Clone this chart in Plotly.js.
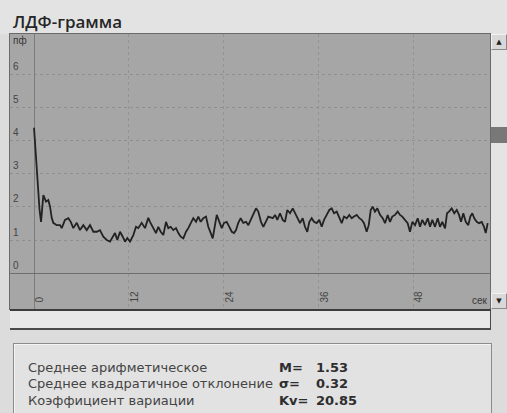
<!DOCTYPE html>
<html>
<head>
<meta charset="utf-8">
<script src="https://cdn.plot.ly/plotly-3.0.1.min.js"></script>
<style>
  html, body { margin:0; padding:0; }
  body { width:507px; height:413px; overflow:hidden; background:#dcdcdc; position:relative; font-family:"DejaVu Sans", sans-serif; }
  .abs { position:absolute; }
  #topband { left:0; top:0; width:507px; height:34px; background:#e3e3e3; }
  #title { left:13px; top:10px; font-family:"Open Sans", sans-serif; font-weight:600; font-size:17px; color:#262626; white-space:nowrap; }
  #frame { left:9px; top:33px; width:482px; height:277px; background:#6a6a6a; }
  #chart { left:10px; top:34px; width:480px; height:275px; }
  #vscroll { left:491px; top:34px; width:16px; height:275px; background:#e4e4e4; }
  .btn { position:absolute; left:0; width:16px; height:16px; background:#d8d8d8; border-top:1px solid #f2f2f2; border-left:1px solid #f2f2f2; border-bottom:1px solid #8a8a8a; border-right:1px solid #8a8a8a; box-sizing:border-box; font-size:7px; color:#222; text-align:center; line-height:14px; }
  #thumb { position:absolute; left:0; top:93px; width:16px; height:16px; background:#787878; }
  #hbar { left:10px; top:309px; width:481px; height:21px; background:#e8e8e8; border-top:2px solid #3c3c3c; border-bottom:2px solid #4a4a4a; border-right:1px solid #4a4a4a; box-sizing:border-box; }
  #group { left:13px; top:343px; width:479px; height:90px; background:#e2e2e2; border:1px solid #8c8c8c; box-shadow: inset 1px 1px 0 #f4f4f4; box-sizing:border-box; }
  .stat { position:absolute; font-size:13px; color:#444; white-space:nowrap; line-height:16px; }
  .sym { font-weight:bold; color:#2e2e2e; }
  .val { font-weight:bold; color:#2e2e2e; }
</style>
</head>
<body>
<div id="topband" class="abs"></div>
<div id="title" class="abs"></div>
<div id="frame" class="abs"></div>
<div id="chart" class="abs"></div>
<div id="vscroll" class="abs">
  <div class="btn" style="top:0">&#9650;</div>
  <div id="thumb"></div>
  <div class="btn" style="top:259px">&#9660;</div>
</div>
<div id="hbar" class="abs"></div>
<div id="group" class="abs"></div>
<script>
// ---- chart text ----
const chartTitle = "ЛДФ-грамма";
const xUnit = "сек";
const yUnit = "пф";

// ---- axis ticks ----
const xTickVals = [0, 12, 24, 36, 48];
const xTickText = ["0", "12", "24", "36", "48"];
const yTickVals = [0, 1, 2, 3, 4, 5, 6];
const yTickText = ["0", "1", "2", "3", "4", "5", "6"];

// ---- LDF signal (time, s / perfusion units) ----
const timeSec = [
  0.00, 0.38, 0.70, 0.89, 1.18, 1.52, 1.81, 2.03, 2.24, 2.44, 2.87, 3.29, 3.51, 3.92, 4.34, 4.65, 4.97, 5.41, 5.82, 6.24,
  6.67, 7.09, 7.51, 7.94, 8.35, 8.77, 9.20, 9.62, 9.96, 10.25, 10.54, 10.89, 11.23, 11.52, 11.81, 12.15, 12.57, 12.91, 13.20, 13.63,
  14.05, 14.47, 14.68, 15.10, 15.44, 15.73, 16.04, 16.37, 16.71, 17.00, 17.30, 17.63, 17.97, 18.27, 18.57, 18.90, 19.24, 19.53, 19.84, 20.16,
  20.51, 20.80, 21.10, 21.43, 21.77, 22.06, 22.37, 22.62, 22.91, 23.13, 23.46, 23.76, 24.05, 24.39, 24.72, 25.03, 25.32, 25.57, 25.86, 26.16,
  26.49, 26.84, 27.13, 27.43, 27.76, 28.10, 28.39, 28.73, 29.03, 29.37, 29.66, 30.22, 30.51, 30.80, 31.14, 31.48, 31.77, 32.06, 32.41, 32.75,
  33.04, 33.33, 33.67, 34.01, 34.30, 34.59, 34.85, 35.15, 35.44, 35.78, 36.11, 36.42, 36.71, 37.05, 37.38, 37.68, 37.97, 38.32, 38.65, 38.95,
  39.24, 39.58, 39.91, 40.22, 40.51, 40.85, 41.18, 41.48, 41.77, 42.11, 42.37, 42.62, 42.87, 43.16, 43.46, 43.80, 44.14, 44.43, 44.77, 45.06,
  45.35, 45.70, 46.04, 46.33, 46.62, 46.96, 47.30, 47.59, 47.89, 48.23, 48.57, 48.86, 49.15, 49.49, 49.84, 50.13, 50.42, 50.76, 51.10, 51.39,
  51.68, 52.03, 52.28, 52.53, 52.87, 53.20, 53.51, 53.80, 54.05, 54.34, 54.65, 54.97, 55.23, 55.48, 55.73, 56.04, 56.33, 56.67, 56.96, 57.18,
  57.43
];
const ldfValue = [
  4.40, 2.97, 1.91, 1.55, 2.36, 2.16, 2.21, 2.01, 1.67, 1.52, 1.45, 1.45, 1.36, 1.61, 1.66, 1.55, 1.36, 1.52, 1.30, 1.45,
  1.30, 1.45, 1.25, 1.25, 1.30, 1.10, 1.00, 0.95, 1.10, 1.21, 1.00, 1.25, 1.10, 0.95, 1.06, 0.95, 1.15, 1.40, 1.36, 1.52,
  1.36, 1.67, 1.55, 1.36, 1.21, 1.40, 1.25, 1.15, 1.55, 1.36, 1.40, 1.30, 1.36, 1.21, 1.10, 1.05, 1.25, 1.36, 1.52, 1.66,
  1.55, 1.71, 1.55, 1.66, 1.71, 1.40, 1.21, 1.05, 1.45, 1.76, 1.55, 1.36, 1.52, 1.55, 1.40, 1.25, 1.21, 1.30, 1.52, 1.66,
  1.52, 1.55, 1.45, 1.61, 1.76, 1.96, 1.86, 1.55, 1.40, 1.55, 1.71, 1.66, 1.76, 1.61, 1.81, 1.61, 1.55, 1.91, 1.81, 1.96,
  1.81, 1.71, 1.51, 1.66, 1.40, 1.25, 1.55, 1.66, 1.55, 1.51, 1.61, 1.40, 1.61, 1.76, 1.91, 1.96, 1.81, 1.86, 1.66, 1.51,
  1.71, 1.66, 1.76, 1.66, 1.71, 1.76, 1.66, 1.61, 1.51, 1.25, 1.45, 1.91, 2.01, 1.86, 1.96, 1.76, 1.66, 1.51, 1.76, 1.55,
  1.71, 1.76, 1.86, 1.76, 1.71, 1.61, 1.51, 1.25, 1.55, 1.45, 1.66, 1.40, 1.61, 1.45, 1.66, 1.40, 1.61, 1.40, 1.66, 1.40,
  1.55, 1.35, 1.81, 1.86, 1.96, 1.81, 1.91, 1.76, 1.55, 1.81, 1.55, 1.45, 1.71, 1.81, 1.66, 1.55, 1.51, 1.55, 1.40, 1.21,
  1.51
];

// ---- statistics panel ----
const statLabels = ["Среднее арифметическое", "Среднее квадратичное отклонение", "Коэффициент вариации"];
const statSymbols = ["M=", "σ=", "Kv="];
const statValues = ["1.53", "0.32", "20.85"];

document.getElementById("title").textContent = chartTitle;

const group = document.getElementById("group");
const rowTops = [16, 32, 49];
statLabels.forEach((lab, i) => {
  const a = document.createElement("div");
  a.className = "stat"; a.style.left = "14px"; a.style.top = rowTops[i] + "px"; a.textContent = lab;
  const b = document.createElement("div");
  b.className = "stat sym"; b.style.left = "265px"; b.style.top = rowTops[i] + "px"; b.textContent = statSymbols[i];
  const c = document.createElement("div");
  c.className = "stat val"; c.style.left = "302px"; c.style.top = rowTops[i] + "px"; c.textContent = statValues[i];
  group.appendChild(a); group.appendChild(b); group.appendChild(c);
});

const trace = {
  x: timeSec, y: ldfValue, type: "scatter", mode: "lines",
  line: { color: "#222222", width: 1.8 }, hoverinfo: "skip"
};

const layout = {
  width: 480, height: 275,
  margin: { l: 0, r: 0, t: 0, b: 0 },
  paper_bgcolor: "#a6a6a6", plot_bgcolor: "#a6a6a6",
  showlegend: false,
  font: { family: "Liberation Sans, Arial, sans-serif", size: 10, color: "#383838" },
  xaxis: {
    range: [-3.04, 57.72], tickmode: "array", tickvals: xTickVals, ticktext: xTickText,
    tickangle: -90, ticklabelposition: "inside", ticklabelshift: 6, ticks: "",
    showgrid: true, gridcolor: "#939393", griddash: "dot", gridwidth: 1,
    zeroline: true, zerolinecolor: "#7c7c7c", zerolinewidth: 1,
    showline: false, fixedrange: true
  },
  yaxis: {
    range: [-1.09, 7.24], tickmode: "array", tickvals: yTickVals, ticktext: yTickText,
    ticklabelposition: "inside", ticklabelshift: -8, ticks: "",
    showgrid: true, gridcolor: "#8f8f8f", griddash: "dot", gridwidth: 1,
    zeroline: true, zerolinecolor: "#6e6e6e", zerolinewidth: 1,
    showline: false, fixedrange: true
  },
  annotations: [
    { xref: "paper", yref: "paper", x: 1, y: 0, xanchor: "right", yanchor: "bottom",
      text: xUnit, showarrow: false, font: { size: 10, color: "#383838" }, yshift: 1 },
    { xref: "paper", yref: "y", x: 0, y: 7.0, xanchor: "left", yanchor: "middle",
      text: yUnit, showarrow: false, font: { size: 10, color: "#383838" }, xshift: 1, yshift: 1 }
  ]
};

Plotly.newPlot("chart", [trace], layout, { staticPlot: true, displayModeBar: false });
</script>
</body>
</html>
